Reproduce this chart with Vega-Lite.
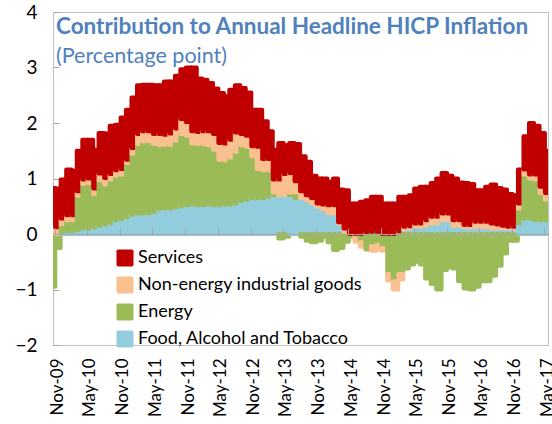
{
  "$schema": "https://vega.github.io/schema/vega-lite/v6.json",
  "width": 495,
  "height": 333,
  "autosize": {"type": "none"},
  "padding": {"left": 53, "top": 12, "right": 4, "bottom": 79},
  "background": "white",
  "config": {"view": {"stroke": "#BFBFBF", "strokeWidth": 1}, "font": "Lato", "bar": {"binSpacing": 0}},
  "title": {
    "text": "Contribution to Annual Headline HICP Inflation",
    "subtitle": "(Percentage point)",
    "anchor": "start",
    "frame": "group",
    "orient": "top",
    "offset": -64,
    "dx": 3,
    "font": "Lato",
    "fontSize": 22.5,
    "fontWeight": "bold",
    "color": "#4F81BD",
    "subtitleFont": "Lato",
    "subtitleFontSize": 21.5,
    "subtitleColor": "#4F81BD",
    "subtitlePadding": 7
  },
  "data": {"values": [
    {"m":"2009-10-15","Food":0.03,"Energy":-0.95,"NEIG":0.1,"Services":0.7},
    {"m":"2009-11-15","Food":0.0,"Energy":-0.25,"NEIG":0.12,"Services":0.7},
    {"m":"2009-12-15","Food":0.03,"Energy":0.15,"NEIG":0.1,"Services":0.7},
    {"m":"2010-01-15","Food":0.05,"Energy":0.2,"NEIG":0.09,"Services":0.82},
    {"m":"2010-02-15","Food":0.05,"Energy":0.2,"NEIG":0.09,"Services":0.8},
    {"m":"2010-03-15","Food":0.07,"Energy":0.62,"NEIG":0.08,"Services":0.73},
    {"m":"2010-04-15","Food":0.1,"Energy":0.8,"NEIG":0.08,"Services":0.72},
    {"m":"2010-05-15","Food":0.1,"Energy":0.82,"NEIG":0.08,"Services":0.7},
    {"m":"2010-06-15","Food":0.12,"Energy":0.6,"NEIG":0.1,"Services":0.7},
    {"m":"2010-07-15","Food":0.15,"Energy":0.82,"NEIG":0.12,"Services":0.73},
    {"m":"2010-08-15","Food":0.17,"Energy":0.72,"NEIG":0.12,"Services":0.8},
    {"m":"2010-09-15","Food":0.2,"Energy":0.78,"NEIG":0.1,"Services":0.87},
    {"m":"2010-10-15","Food":0.25,"Energy":0.8,"NEIG":0.1,"Services":0.82},
    {"m":"2010-11-15","Food":0.27,"Energy":0.8,"NEIG":0.1,"Services":0.93},
    {"m":"2010-12-15","Food":0.3,"Energy":0.98,"NEIG":0.06,"Services":0.9},
    {"m":"2011-01-15","Food":0.35,"Energy":1.1,"NEIG":0.1,"Services":0.91},
    {"m":"2011-02-15","Food":0.37,"Energy":1.25,"NEIG":0.18,"Services":0.88},
    {"m":"2011-03-15","Food":0.37,"Energy":1.3,"NEIG":0.18,"Services":0.84},
    {"m":"2011-04-15","Food":0.37,"Energy":1.3,"NEIG":0.18,"Services":0.84},
    {"m":"2011-05-15","Food":0.4,"Energy":1.22,"NEIG":0.18,"Services":0.88},
    {"m":"2011-06-15","Food":0.45,"Energy":1.15,"NEIG":0.2,"Services":0.88},
    {"m":"2011-07-15","Food":0.46,"Energy":1.15,"NEIG":0.18,"Services":0.96},
    {"m":"2011-08-15","Food":0.46,"Energy":1.15,"NEIG":0.2,"Services":0.94},
    {"m":"2011-09-15","Food":0.48,"Energy":1.2,"NEIG":0.22,"Services":0.95},
    {"m":"2011-10-15","Food":0.5,"Energy":1.3,"NEIG":0.27,"Services":0.9},
    {"m":"2011-11-15","Food":0.52,"Energy":1.25,"NEIG":0.25,"Services":0.98},
    {"m":"2011-12-15","Food":0.53,"Energy":1.1,"NEIG":0.22,"Services":1.15},
    {"m":"2012-01-15","Food":0.52,"Energy":1.1,"NEIG":0.22,"Services":0.96},
    {"m":"2012-02-15","Food":0.52,"Energy":1.1,"NEIG":0.23,"Services":0.93},
    {"m":"2012-03-15","Food":0.53,"Energy":1.07,"NEIG":0.25,"Services":0.87},
    {"m":"2012-04-15","Food":0.52,"Energy":1.0,"NEIG":0.28,"Services":0.82},
    {"m":"2012-05-15","Food":0.52,"Energy":0.82,"NEIG":0.3,"Services":0.9},
    {"m":"2012-06-15","Food":0.53,"Energy":0.8,"NEIG":0.3,"Services":0.85},
    {"m":"2012-07-15","Food":0.53,"Energy":0.85,"NEIG":0.32,"Services":0.9},
    {"m":"2012-08-15","Food":0.55,"Energy":0.93,"NEIG":0.35,"Services":0.85},
    {"m":"2012-09-15","Food":0.6,"Energy":1.0,"NEIG":0.2,"Services":0.83},
    {"m":"2012-10-15","Food":0.62,"Energy":0.95,"NEIG":0.2,"Services":0.78},
    {"m":"2012-11-15","Food":0.65,"Energy":0.75,"NEIG":0.18,"Services":0.66},
    {"m":"2012-12-15","Food":0.65,"Energy":0.52,"NEIG":0.4,"Services":0.67},
    {"m":"2013-01-15","Food":0.65,"Energy":0.5,"NEIG":0.2,"Services":0.68},
    {"m":"2013-02-15","Food":0.67,"Energy":0.48,"NEIG":0.2,"Services":0.5},
    {"m":"2013-03-15","Food":0.7,"Energy":0.05,"NEIG":0.23,"Services":0.54},
    {"m":"2013-04-15","Food":0.7,"Energy":-0.08,"NEIG":0.28,"Services":0.66},
    {"m":"2013-05-15","Food":0.7,"Energy":-0.05,"NEIG":0.38,"Services":0.52},
    {"m":"2013-06-15","Food":0.7,"Energy":0.05,"NEIG":0.35,"Services":0.54},
    {"m":"2013-07-15","Food":0.65,"Energy":0.1,"NEIG":0.2,"Services":0.67},
    {"m":"2013-08-15","Food":0.65,"Energy":-0.05,"NEIG":0.12,"Services":0.63},
    {"m":"2013-09-15","Food":0.61,"Energy":-0.12,"NEIG":0.09,"Services":0.6},
    {"m":"2013-10-15","Food":0.55,"Energy":-0.15,"NEIG":0.1,"Services":0.4},
    {"m":"2013-11-15","Food":0.49,"Energy":-0.12,"NEIG":0.06,"Services":0.45},
    {"m":"2013-12-15","Food":0.45,"Energy":-0.05,"NEIG":0.08,"Services":0.47},
    {"m":"2014-01-15","Food":0.37,"Energy":-0.15,"NEIG":0.15,"Services":0.42},
    {"m":"2014-02-15","Food":0.37,"Energy":-0.29,"NEIG":0.15,"Services":0.48},
    {"m":"2014-03-15","Food":0.19,"Energy":-0.25,"NEIG":0.02,"Services":0.59},
    {"m":"2014-04-15","Food":0.04,"Energy":-0.14,"NEIG":0.06,"Services":0.69},
    {"m":"2014-05-15","Food":0.0,"Energy":-0.05,"NEIG":0.0,"Services":0.55},
    {"m":"2014-06-15","Food":0.0,"Energy":-0.04,"NEIG":-0.1,"Services":0.55},
    {"m":"2014-07-15","Food":0.0,"Energy":-0.15,"NEIG":-0.08,"Services":0.58},
    {"m":"2014-08-15","Food":0.03,"Energy":-0.28,"NEIG":0.0,"Services":0.58},
    {"m":"2014-09-15","Food":0.04,"Energy":-0.22,"NEIG":-0.08,"Services":0.63},
    {"m":"2014-10-15","Food":0.04,"Energy":-0.2,"NEIG":-0.08,"Services":0.63},
    {"m":"2014-11-15","Food":0.0,"Energy":-0.25,"NEIG":-0.05,"Services":0.55},
    {"m":"2014-12-15","Food":0.0,"Energy":-0.72,"NEIG":-0.12,"Services":0.55},
    {"m":"2015-01-15","Food":0.0,"Energy":-0.85,"NEIG":-0.15,"Services":0.55},
    {"m":"2015-02-15","Food":0.05,"Energy":-0.72,"NEIG":-0.1,"Services":0.62},
    {"m":"2015-03-15","Food":0.08,"Energy":-0.62,"NEIG":0.05,"Services":0.54},
    {"m":"2015-04-15","Food":0.1,"Energy":-0.55,"NEIG":0.04,"Services":0.56},
    {"m":"2015-05-15","Food":0.13,"Energy":-0.5,"NEIG":0.06,"Services":0.63},
    {"m":"2015-06-15","Food":0.13,"Energy":-0.55,"NEIG":0.06,"Services":0.66},
    {"m":"2015-07-15","Food":0.15,"Energy":-0.8,"NEIG":0.1,"Services":0.6},
    {"m":"2015-08-15","Food":0.19,"Energy":-0.9,"NEIG":0.12,"Services":0.61},
    {"m":"2015-09-15","Food":0.19,"Energy":-1.0,"NEIG":0.12,"Services":0.69},
    {"m":"2015-10-15","Food":0.25,"Energy":-0.65,"NEIG":0.12,"Services":0.73},
    {"m":"2015-11-15","Food":0.25,"Energy":-0.6,"NEIG":0.12,"Services":0.68},
    {"m":"2015-12-15","Food":0.15,"Energy":-0.62,"NEIG":0.1,"Services":0.75},
    {"m":"2016-01-15","Food":0.15,"Energy":-0.85,"NEIG":0.1,"Services":0.68},
    {"m":"2016-02-15","Food":0.12,"Energy":-0.98,"NEIG":0.04,"Services":0.76},
    {"m":"2016-03-15","Food":0.12,"Energy":-1.0,"NEIG":0.04,"Services":0.74},
    {"m":"2016-04-15","Food":0.12,"Energy":-0.95,"NEIG":0.1,"Services":0.57},
    {"m":"2016-05-15","Food":0.12,"Energy":-0.85,"NEIG":0.1,"Services":0.57},
    {"m":"2016-06-15","Food":0.12,"Energy":-0.85,"NEIG":0.1,"Services":0.63},
    {"m":"2016-07-15","Food":0.1,"Energy":-0.75,"NEIG":0.09,"Services":0.7},
    {"m":"2016-08-15","Food":0.1,"Energy":-0.57,"NEIG":0.07,"Services":0.66},
    {"m":"2016-09-15","Food":0.1,"Energy":-0.35,"NEIG":0.05,"Services":0.65},
    {"m":"2016-10-15","Food":0.1,"Energy":-0.12,"NEIG":0.03,"Services":0.59},
    {"m":"2016-11-15","Food":0.1,"Energy":-0.12,"NEIG":0.03,"Services":0.57},
    {"m":"2016-12-15","Food":0.19,"Energy":0.27,"NEIG":0.09,"Services":0.61},
    {"m":"2017-01-15","Food":0.28,"Energy":0.79,"NEIG":0.09,"Services":0.6},
    {"m":"2017-02-15","Food":0.28,"Energy":0.72,"NEIG":0.07,"Services":0.93},
    {"m":"2017-03-15","Food":0.25,"Energy":0.73,"NEIG":0.09,"Services":0.88},
    {"m":"2017-04-15","Food":0.25,"Energy":0.49,"NEIG":0.11,"Services":0.97},
    {"m":"2017-05-15","Food":0.25,"Energy":0.37,"NEIG":0.12,"Services":0.76}
  ]},
  "transform": [
    {"fold": ["Food", "Energy", "NEIG", "Services"], "as": ["component", "value"]},
    {"filter": "datum.value != 0"},
    {"calculate": "indexof(['Food','Energy','NEIG','Services'], datum.component)", "as": "ord"}
  ],
  "layer": [
    {
      "mark": {"type": "bar", "clip": true, "strokeWidth": 4, "strokeOpacity": 1, "strokeJoin": "round", "binSpacing": 0, "timeUnitBandSize": 1},
      "encoding": {
        "x": {
          "field": "m", "type": "temporal", "timeUnit": "yearmonth",
          "scale": {"domain": [{"year": 2009, "month": 10, "date": 22}, {"year": 2017, "month": 5, "date": 21}]},
          "axis": {
            "values": [
              {"year": 2009, "month": 11, "date": 1}, {"year": 2010, "month": 5, "date": 1},
              {"year": 2010, "month": 11, "date": 1}, {"year": 2011, "month": 5, "date": 1},
              {"year": 2011, "month": 11, "date": 1}, {"year": 2012, "month": 5, "date": 1},
              {"year": 2012, "month": 11, "date": 1}, {"year": 2013, "month": 5, "date": 1},
              {"year": 2013, "month": 11, "date": 1}, {"year": 2014, "month": 5, "date": 1},
              {"year": 2014, "month": 11, "date": 1}, {"year": 2015, "month": 5, "date": 1},
              {"year": 2015, "month": 11, "date": 1}, {"year": 2016, "month": 5, "date": 1},
              {"year": 2016, "month": 11, "date": 1}, {"year": 2017, "month": 5, "date": 1}
            ],
            "format": "%b-%y",
            "labelAngle": -90,
            "labelAlign": "right",
            "labelBaseline": "middle",
            "labelFont": "Lato",
            "labelFontSize": 17,
            "labelColor": "#000000",
            "labelPadding": 13,
            "labelOffset": 2.7,
            "labelFlush": false,
            "labelOverlap": false,
            "labelBound": false,
            "ticks": false,
            "domain": false,
            "grid": false,
            "title": null
          }
        },
        "y": {
          "field": "value", "type": "quantitative", "stack": "zero",
          "scale": {"domain": [-2, 4], "nice": false},
          "axis": {
            "values": [-2, -1, 0, 1, 2, 3, 4],
            "format": "d",
            "labelFont": "Lato",
            "labelFontSize": 19,
            "labelColor": "#000000",
            "labelPadding": 22,
            "tickSize": -6,
            "tickColor": "#A6A6A6",
            "domain": false,
            "grid": false,
            "title": null
          }
        },
        "fill": {
          "field": "component", "type": "nominal",
          "scale": {"domain": ["Services", "NEIG", "Energy", "Food"], "range": ["#C00000", "#FAC090", "#9BBB59", "#93CDDD"]},
          "legend": {
            "orient": "none",
            "legendX": 63,
            "legendY": 237,
            "title": null,
            "padding": 0,
            "labelFont": "Lato",
            "labelFontSize": 18,
            "labelColor": "#000000",
            "labelOffset": 4,
            "labelLimit": 400,
            "rowPadding": 9,
            "symbolType": "M-0.8,-1H0.8Q1,-1,1,-0.8V0.8Q1,1,0.8,1H-0.8Q-1,1,-1,0.8V-0.8Q-1,-1,-0.8,-1Z",
            "symbolSize": 289,
            "symbolStrokeWidth": 0,
            "labelExpr": "datum.label == 'NEIG' ? 'Non-energy industrial goods' : datum.label == 'Food' ? 'Food, Alcohol and Tobacco' : datum.label"
          }
        },
        "stroke": {
          "field": "component", "type": "nominal",
          "scale": {"domain": ["Services", "NEIG", "Energy", "Food"], "range": ["#C00000", "#FAC090", "#9BBB59", "#93CDDD"]},
          "legend": null
        },
        "order": {"field": "ord", "type": "quantitative"}
      }
    },
    {
      "mark": {"type": "rule", "opacity": 0},
      "encoding": {
        "x": {
          "field": "m", "type": "temporal", "timeUnit": "yearmonth",
          "axis": {
            "orient": "top",
            "offset": -222,
            "values": [
              {"year": 2009, "month": 11, "date": 1}, {"year": 2010, "month": 5, "date": 1},
              {"year": 2010, "month": 11, "date": 1}, {"year": 2011, "month": 5, "date": 1},
              {"year": 2011, "month": 11, "date": 1}, {"year": 2012, "month": 5, "date": 1},
              {"year": 2012, "month": 11, "date": 1}, {"year": 2013, "month": 5, "date": 1},
              {"year": 2013, "month": 11, "date": 1}, {"year": 2014, "month": 5, "date": 1},
              {"year": 2014, "month": 11, "date": 1}, {"year": 2015, "month": 5, "date": 1},
              {"year": 2015, "month": 11, "date": 1}, {"year": 2016, "month": 5, "date": 1},
              {"year": 2016, "month": 11, "date": 1}, {"year": 2017, "month": 5, "date": 1}
            ],
            "labels": false,
            "ticks": true,
            "tickSize": 6,
            "tickColor": "#A6A6A6",
            "domain": true,
            "domainColor": "#A6A6A6",
            "grid": false,
            "title": null,
            "zindex": 1
          }
        },
        "y": {"datum": 0}
      }
    }
  ],
  "resolve": {"axis": {"x": "independent"}}
}
